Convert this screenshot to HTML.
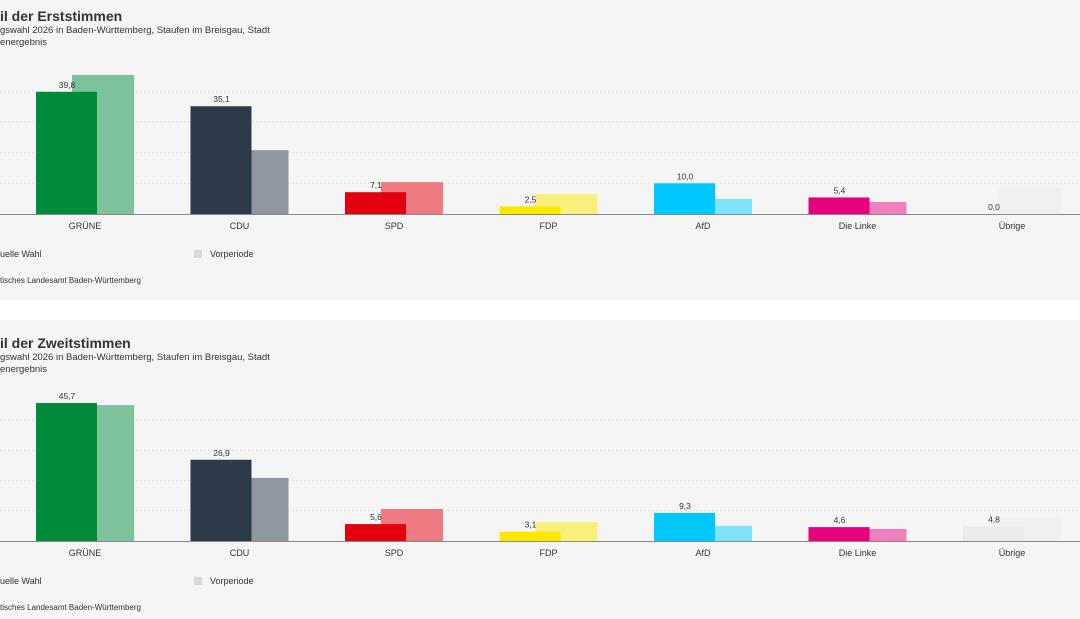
<!DOCTYPE html>
<html><head><meta charset="utf-8"><style>
html,body{margin:0;padding:0;background:#fff;}
svg{display:block;font-family:"Liberation Sans",sans-serif;}
</style></head><body>
<svg width="1080" height="619" viewBox="0 0 1080 619" xmlns="http://www.w3.org/2000/svg">
<rect x="0" y="0" width="1080" height="300" fill="#f5f5f5"/>
<rect x="0" y="320" width="1080" height="299" fill="#f5f5f5"/>
<g id="p1"></g><g id="p2"></g>
<script><![CDATA[
var cats=["GRÜNE","CDU","SPD","FDP","AfD","Die Linke","Übrige"];
var cur=["#008a3a","#2d3a4a","#e3000f","#ffe800","#00c8ff","#e6007e","#ebebeb"];
var prv=["#7dc29a","#9097a0","#ee7b82","#f9ef7c","#80e2fb","#ee80bd","#f0f0f0"];
function panel(id,off,scale,title,vals,pv){
 var g=document.getElementById(id),s='';
 var base=214+off;
 s+='<text x="0" y="'+(21+off)+'" font-size="14" font-weight="bold" fill="#333">'+title+'</text>';
 s+='<text x="0" y="'+(33+off)+'" font-size="9.5" fill="#333">gswahl 2026 in Baden-Württemberg, Staufen im Breisgau, Stadt</text>';
 s+='<text x="0" y="'+(45+off)+'" font-size="9.5" fill="#333">energebnis</text>';
 for(var k=1;k<=4;k++){var y=base-k*10*scale;s+='<line x1="0" x2="1080" y1="'+y+'" y2="'+y+'" stroke="#e2e2e2" stroke-width="1" stroke-dasharray="2,2"/>';}
 for(var i=0;i<7;i++){
  var x=36+i*154.5;
  var hp=pv[i]*scale,hc=vals[i]*scale;
  s+='<rect x="'+(x+36)+'" y="'+(base-hp)+'" width="62" height="'+hp+'" fill="'+prv[i]+'"/>';
  if(hc>0)s+='<rect x="'+x+'" y="'+(base-hc)+'" width="61" height="'+hc+'" fill="'+cur[i]+'"/>';
  s+='<text x="'+(x+31)+'" y="'+(base-hc-4)+'" font-size="8.5" fill="#333" text-anchor="middle">'+vals[i].toFixed(1).replace(".",",")+'</text>';
  s+='<text x="'+(x+49)+'" y="'+(base+15)+'" font-size="9" fill="#333" text-anchor="middle">'+cats[i]+'</text>';
 }
 s+='<line x1="0" x2="1080" y1="'+(base+0.5)+'" y2="'+(base+0.5)+'" stroke="#888" stroke-width="1"/>';
 s+='<text x="0" y="'+(257+off)+'" font-size="9" fill="#333">uelle Wahl</text>';
 s+='<rect x="194" y="'+(250+off)+'" width="8" height="8" fill="#d8d8d8"/>';
 s+='<text x="210" y="'+(257+off)+'" font-size="9" fill="#333">Vorperiode</text>';
 s+='<text x="0" y="'+(283+off)+'" font-size="8" fill="#333">tisches Landesamt Baden-Württemberg</text>';
 g.innerHTML=s;
}
panel("p1",0,3.07,"il der Erststimmen",[39.8,35.1,7.1,2.5,10.0,5.4,0.0],[45.3,20.8,10.4,6.5,4.9,3.9,8.5]);
panel("p2",327,3.02,"il der Zweitstimmen",[45.7,26.9,5.6,3.1,9.3,4.6,4.8],[45.0,20.9,10.6,6.3,5.0,4.0,8.0]);
]]></script>
</svg>
</body></html>
